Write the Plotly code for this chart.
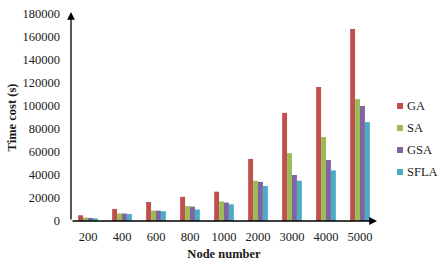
import plotly.graph_objects as go

categories = ["200", "400", "600", "800", "1000", "2000", "3000", "4000", "5000"]
ga = [5000, 10500, 16500, 21000, 25500, 54000, 94000, 116500, 167000]
sa = [3000, 6500, 9000, 13000, 17000, 35000, 59000, 73000, 106000]
gsa = [2700, 6500, 9000, 12500, 16000, 34000, 40000, 53000, 100000]
sfla = [2300, 6000, 8500, 10000, 14500, 30500, 35000, 44000, 86000]
series = [("GA", ga, "#C0504D"), ("SA", sa, "#9BBB59"), ("GSA", gsa, "#8064A2"), ("SFLA", sfla, "#4BACC6")]
y_ticks = list(range(0, 180001, 20000))

W, H = 443, 264
L, R, T, B = 71, 66, 14, 43
pw, ph = W - L - R, H - T - B

fig = go.Figure()
for name, vals, color in series:
    fig.add_trace(go.Bar(x=categories, y=vals, name=name, marker_color=color,
                         marker_line_width=0, showlegend=False))

font_family = "Liberation Serif, Times New Roman, serif"
fig.update_layout(
    width=W, height=H,
    margin=dict(l=L, r=R, t=T, b=B, autoexpand=False),
    paper_bgcolor="white", plot_bgcolor="white",
    barmode="group", bargap=0.42, bargroupgap=0,
    font=dict(family=font_family, size=12.5, color="#1a1a1a"),
    showlegend=False,
    xaxis=dict(type="category", showgrid=False, showline=False, ticks="",
               ticklabelstandoff=6, automargin=False,
               title=dict(text="<b>Node number</b>", font=dict(size=12.5), standoff=6),
               tickfont=dict(size=12.5)),
    yaxis=dict(range=[0, 180000], tickvals=y_ticks, ticktext=[str(v) for v in y_ticks],
               showgrid=False, showline=False, ticks="", zeroline=False,
               ticklabelstandoff=10, automargin=False,
               title=dict(text="<b>Time cost (s)</b>", font=dict(size=12.5), standoff=3),
               tickfont=dict(size=12.5)),
)

# axis arrows
fig.add_annotation(xref="paper", yref="paper", x=0, y=1.0 + 2 / ph, ax=0, ay=ph + 2,
                   showarrow=True, arrowhead=2, arrowsize=1.2, arrowwidth=1.3,
                   arrowcolor="black", text="")
fig.add_annotation(xref="paper", yref="paper", x=1.0, y=0, ax=-pw, ay=0,
                   showarrow=True, arrowhead=2, arrowsize=1.2, arrowwidth=1.3,
                   arrowcolor="black", text="")

# legend: small squares with labels
sq_x0 = (397 - L) / pw
sq_x1 = (403 - L) / pw
txt_x = (405 - L) / pw
for i, (name, vals, color) in enumerate(series):
    cy = 106 + 22 * i
    yc = (H - B - cy) / ph
    half = 3 / ph
    fig.add_shape(type="rect", xref="paper", yref="paper", x0=sq_x0, x1=sq_x1,
                  y0=yc - half, y1=yc + half, fillcolor=color, line_width=0)
    fig.add_annotation(xref="paper", yref="paper", x=txt_x, y=yc, text=name,
                       showarrow=False, xanchor="left", yanchor="middle",
                       font=dict(size=12.5))

fig.write_html("out.html")
